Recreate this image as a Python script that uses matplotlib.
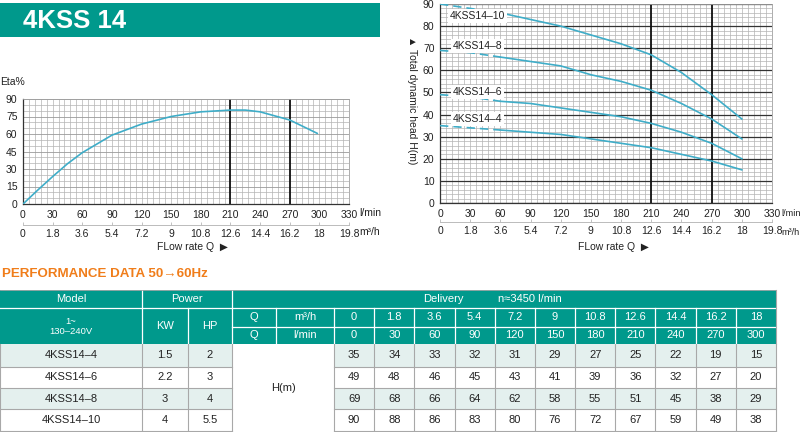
import matplotlib
matplotlib.use("Agg")
import matplotlib.pyplot as plt
from matplotlib.ticker import MultipleLocator
from matplotlib.patches import Rectangle

plt.rcParams['font.family'] = ['Liberation Sans', 'DejaVu Sans']

# ---------------- data ----------------
title = "4KSS 14"
q_lpm = [0, 30, 60, 90, 120, 150, 180, 210, 240, 270, 300]
q_m3h = ['0', '1.8', '3.6', '5.4', '7.2', '9', '10.8', '12.6', '14.4', '16.2', '18']
x_tick_lpm = ['0', '30', '60', '90', '120', '150', '180', '210', '240', '270', '300', '330']
x_tick_m3h = ['0', '1.8', '3.6', '5.4', '7.2', '9', '10.8', '12.6', '14.4', '16.2', '18', '19.8']
models = ['4KSS14–4', '4KSS14–6', '4KSS14–8', '4KSS14–10']
kw = ['1.5', '2.2', '3', '4']
hp = ['2', '3', '4', '5.5']
head_4 = [35, 34, 33, 32, 31, 29, 27, 25, 22, 19, 15]
head_6 = [49, 48, 46, 45, 43, 41, 39, 36, 32, 27, 20]
head_8 = [69, 68, 66, 64, 62, 58, 55, 51, 45, 38, 29]
head_10 = [90, 88, 86, 83, 80, 76, 72, 67, 59, 49, 38]
heads = [head_4, head_6, head_8, head_10]
label_y = [38.0, 50.2, 71.0, 84.6]
eta_q = [0, 15, 30, 45, 60, 90, 120, 150, 180, 210, 225, 240, 270, 298]
eta_v = [0, 12, 23.5, 34.5, 44, 59, 68.5, 75, 79, 80.5, 80.5, 79, 72, 60.5]
bep_lines = [210, 270]

TEAL = '#00998C'
CURVE = '#3FADC8'
LIGHT = '#E4F0EE'
W, H = 800, 432
TFS = 7.5

fig = plt.figure(figsize=(8, 4.32), dpi=100)

def px_axes(x0, y0, x1, y1, **kw_):
    return fig.add_axes([x0 / W, 1 - y1 / H, (x1 - x0) / W, (y1 - y0) / H], **kw_)

# overlay for banner + table
ov = px_axes(0, 0, W, H)
ov.set_xlim(0, W); ov.set_ylim(H, 0); ov.axis('off')
ov.add_patch(Rectangle((0, 3), 380, 34, color=TEAL, lw=0))
ov.text(23, 21, title, color='white', fontsize=18.5, fontweight='bold', va='center', ha='left')
ov.text(2, 274, "PERFORMANCE DATA 50→60Hz", color='#F07D1A', fontsize=9.6,
        fontweight='bold', va='center', ha='left')

# ---------------- table ----------------
dw = (776 - 334) / 11
dcols = [334 + i * dw for i in range(12)]
rows = [290, 308, 327, 344, 367, 388, 409, 431]
fs = 8
ov.add_patch(Rectangle((0, 290), 776, 54, color=TEAL, lw=0))
for i in range(4):
    y0, y1 = rows[3 + i], rows[4 + i]
    c = LIGHT if i % 2 == 0 else 'white'
    ov.add_patch(Rectangle((0, y0), 232, y1 - y0, color=c, lw=0))
    ov.add_patch(Rectangle((334, y0), 776 - 334, y1 - y0, color=c, lw=0))
wl = dict(color='white', lw=0.9)
ov.plot([0, 776], [308, 308], **wl)
ov.plot([232, 776], [327, 327], **wl)
for x in [142, 232]:
    ov.plot([x, x], [290, 344], **wl)
for x in [188, 276] + dcols[:-1]:
    ov.plot([x, x], [308, 344], **wl)
gl = dict(color='#A8A8A8', lw=0.8)
for y in rows[4:]:
    ov.plot([0, 232], [y, y], **gl)
    ov.plot([334, 776], [y, y], **gl)
for x in [0, 142, 188, 232] + dcols:
    ov.plot([x, x], [344, 431], **gl)
ov.plot([776, 776], [290, 344], color='#A8A8A8', lw=0.8)
ov.plot([0, 776], [290, 290], color='#A8A8A8', lw=0.6)

tw = dict(color='white', fontsize=fs, ha='center', va='center')
ov.text(71, 299, "Model", **tw)
ov.text(187, 299, "Power", **tw)
ov.text(443, 299, "Delivery", **tw)
ov.text(498, 299, "n≈3450 l/min", color='white', fontsize=fs, ha='left', va='center')
ov.text(71, 321, "1~", color='white', fontsize=6.8, ha='center', va='center')
ov.text(71, 332, "130–240V", color='white', fontsize=6.8, ha='center', va='center')
ov.text(165, 326, "KW", **tw)
ov.text(210, 326, "HP", **tw)
ov.text(254, 317.5, "Q", **tw)
ov.text(254, 335.5, "Q", **tw)
ov.text(305, 317.5, "m³/h", **tw)
ov.text(305, 335.5, "l/min", **tw)
for j in range(11):
    cx = (dcols[j] + dcols[j + 1]) / 2
    ov.text(cx, 317.5, q_m3h[j], **tw)
    ov.text(cx, 335.5, str(q_lpm[j]), **tw)
tb = dict(color='#222222', fontsize=fs, ha='center', va='center')
for i in range(4):
    cy = (rows[3 + i] + rows[4 + i]) / 2
    ov.text(71, cy, models[i], **tb)
    ov.text(165, cy, kw[i], **tb)
    ov.text(210, cy, hp[i], **tb)
    for j in range(11):
        cx = (dcols[j] + dcols[j + 1]) / 2
        ov.text(cx, cy, str(heads[i][j]), **tb)
ov.text(283, 388, "H(m)", **tb)

# ---------------- chart helpers ----------------
def style_chart(ax, ymajor, yminor, ymajor_color, ymajor_lw, sec_loc):
    ax.set_xlim(0, 330); ax.set_ylim(0, 90)
    ax.set_xticks(range(0, 331, 30), labels=x_tick_lpm)
    ax.set_yticks(range(0, 91, ymajor))
    ax.xaxis.set_minor_locator(MultipleLocator(6))
    ax.yaxis.set_minor_locator(MultipleLocator(yminor))
    ax.grid(which='minor', color='#B4B4B4', lw=0.5)
    ax.grid(which='major', axis='x', color='#B4B4B4', lw=0.5)
    ax.grid(which='major', axis='y', color=ymajor_color, lw=ymajor_lw)
    ax.set_axisbelow(True)
    ax.tick_params(which='both', length=0, labelsize=TFS, pad=4, colors='#222222')
    for s in ['top', 'right']:
        ax.spines[s].set_color('#A0A0A0'); ax.spines[s].set_linewidth(0.6)
    for s in ['left', 'bottom']:
        ax.spines[s].set_color('#333333'); ax.spines[s].set_linewidth(0.9)
    for x in bep_lines:
        ax.axvline(x, color='#111111', lw=1.3, zorder=2)
    sec = ax.secondary_xaxis(sec_loc)
    sec.set_xticks(range(0, 331, 30), labels=x_tick_m3h)
    sec.tick_params(direction='in', length=2, width=0.5, color='#AAAAAA', labelsize=TFS, pad=3,
                    labelcolor='#222222')
    sec.spines['bottom'].set_color('#BBBBBB')
    sec.spines['bottom'].set_linewidth(0.7)
    return sec

# left: efficiency
axL = px_axes(23, 99, 349, 204)
style_chart(axL, 15, 5, '#9A9A9A', 0.6, -0.2)
axL.plot(eta_q, eta_v, color=CURVE, lw=1.2, zorder=3, solid_capstyle='round')
fig.text(0 / W, 1 - 82 / H, "Eta%", fontsize=TFS, ha='left', va='center', color='#222222')
fig.text(359 / W, 1 - 213 / H, "l/min", fontsize=TFS, ha='left', va='center', color='#222222')
fig.text(359 / W, 1 - 232 / H, "m³/h", fontsize=TFS, ha='left', va='center', color='#222222')
fig.text(192 / W, 1 - 247 / H, "FLow rate Q  ▶", fontsize=TFS, ha='center', va='center', color='#222222')

# right: heads
axR = px_axes(440, 4, 772, 203)
style_chart(axR, 10, 2, '#333333', 0.9, -0.095)
for i, h in enumerate(heads):
    axR.plot(q_lpm[:3], h[:3], color=CURVE, lw=1.2, ls=(0, (5, 3)), zorder=3)
    axR.plot(q_lpm[2:], h[2:], color=CURVE, lw=1.2, zorder=3)
    axR.text(37, label_y[i], models[i], fontsize=TFS, ha='center', va='center', color='#222222',
             zorder=4, bbox=dict(facecolor='white', edgecolor='none', pad=1.2))
fig.text(781 / W, 1 - 213 / H, "l/min", fontsize=6.6, ha='left', va='center', color='#222222')
fig.text(781 / W, 1 - 232 / H, "m³/h", fontsize=6.6, ha='left', va='center', color='#222222')
fig.text(613 / W, 1 - 247 / H, "FLow rate Q  ▶", fontsize=TFS, ha='center', va='center', color='#222222')
fig.text(412 / W, 1 - 100 / H, "▲ Total dynamic head H(m)", fontsize=TFS, rotation=270,
         ha='center', va='center', color='#222222')

fig.savefig("out.png", dpi=100)
